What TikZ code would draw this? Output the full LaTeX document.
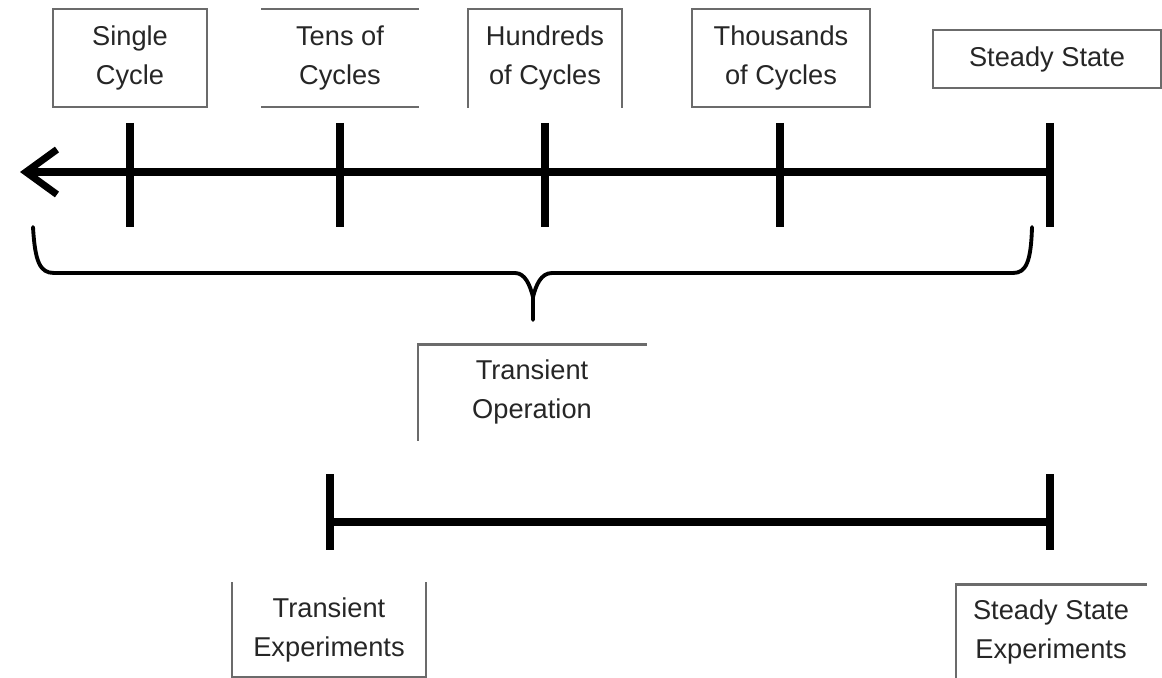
\documentclass[tikz,border=0pt]{standalone}
\usepackage{fontspec}
\setmainfont{Liberation Sans}
\usetikzlibrary{arrows.meta}
\begin{document}
\begin{tikzpicture}[x=0.02cm,y=-0.02cm,
  lbl/.style={inner sep=0pt, outer sep=0pt, align=center, rectangle,
    font=\fontsize{15.5}{22.7}\selectfont, text=black!85},
  edge/.style={draw=black!58, line width=1.2pt, line cap=rect},
  axis/.style={line width=5pt},
  tick/.style={line width=4.4pt},
  brace/.style={line width=2.2pt, line join=round, line cap=round}]
\useasboundingbox (0,0) rectangle (1162,678);

% label boxes
\node[lbl, minimum width=3.08cm, minimum height=1.96cm] (single) at (130,58) {Single\\Cycle};
\node[lbl, minimum width=3.1cm, minimum height=1.96cm] (tens) at (340,58) {Tens of\\Cycles};
\node[lbl, minimum width=3.08cm, minimum height=1.96cm] (hund) at (545,58) {Hundreds\\of Cycles};
\node[lbl, minimum width=3.56cm, minimum height=1.96cm] (thou) at (781,58) {Thousands\\of Cycles};
\node[lbl, minimum width=4.56cm, minimum height=1.16cm] (ss) at (1047,59) {Steady State};
\node[lbl, minimum width=4.56cm, minimum height=1.9cm] (top) at (532,392) {Transient\\Operation};
\node[lbl, minimum width=3.88cm, minimum height=1.88cm] (te) at (329,630) {Transient\\Experiments};
\node[lbl, minimum width=3.8cm, minimum height=1.9cm] (sse) at (1051,632) {Steady State\\Experiments};

% visible box edges
\draw[edge] (single.north west) rectangle (single.south east);
\draw[edge] (tens.north west) -- (tens.north east);
\draw[edge] (tens.south west) -- (tens.south east);
\draw[edge] (hund.south west) -- (hund.north west) -- (hund.north east) -- (hund.south east);
\draw[edge] (thou.north west) rectangle (thou.south east);
\draw[edge] (ss.north west) rectangle (ss.south east);
\draw[edge] (top.south west) -- (top.north west) -- (top.north east);
\draw[edge] (te.north west) -- (te.south west) -- (te.south east) -- (te.north east);
\draw[edge] (sse.south west) -- (sse.north west) -- (sse.north east);

% main time axis
\coordinate (aR) at (1050,172);
\coordinate (aL) at (20,172);
\draw[axis, -{Straight Barb[length=0.62cm, width=0.9cm, line width=4pt]}] (aR) -- (aL);
\foreach \n/\x in {t1/130, t2/340, t3/545, t4/780, t5/1050} {
  \coordinate (\n a) at (\x,123);
  \coordinate (\n b) at (\x,227);
  \draw[tick] (\n a) -- (\n b);
}

% brace
\coordinate (bL) at (33,227);
\coordinate (bR) at (1032,227);
\coordinate (bM) at (533,297);
\coordinate (bS) at (533,320);
\draw[brace] (bL) .. controls (35,262) and (40,273) .. (54,273) -- (515,273)
  .. controls (525,273) and (530,285) .. (bM) -- (bS);
\draw[brace] (bM) .. controls (536,285) and (541,273) .. (552,273) -- (1013,273)
  .. controls (1026,273) and (1031,262) .. (bR);

% experiment range
\coordinate (eL) at (330,522);
\coordinate (eR) at (1050,522);
\draw[axis] (eL) -- (eR);
\coordinate (eLa) at (330,474);
\coordinate (eLb) at (330,550);
\coordinate (eRa) at (1050,474);
\coordinate (eRb) at (1050,550);
\draw[tick] (eLa) -- (eLb);
\draw[tick] (eRa) -- (eRb);
\end{tikzpicture}
\end{document}
